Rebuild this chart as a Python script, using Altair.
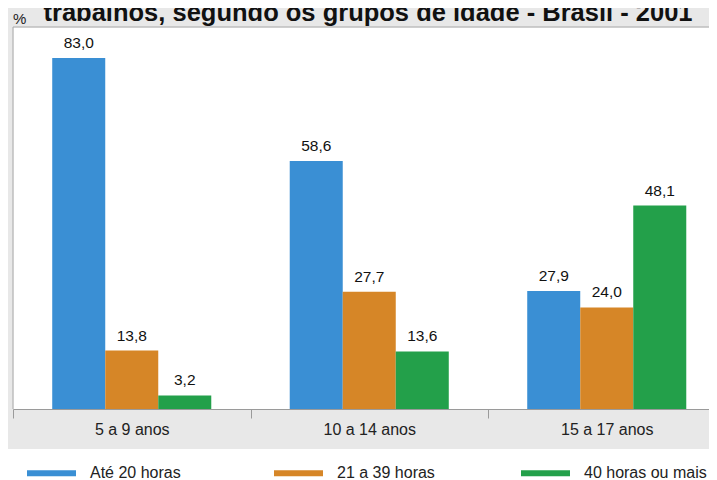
import altair as alt
import pandas as pd

# ---- data ----
groups = ["5 a 9 anos", "10 a 14 anos", "15 a 17 anos"]
series = ["Até 20 horas", "21 a 39 horas", "40 horas ou mais"]
ate_20 = [83.0, 58.6, 27.9]
de_21_39 = [13.8, 27.7, 24.0]
mais_40 = [3.2, 13.6, 48.1]
colors = ["#3a8fd4", "#d68627", "#23a04a"]
title_text = "trabalhos, segundo os grupos de idade - Brasil - 2001"
unit_text = "%"

rows = []
for s, vals in zip(series, [ate_20, de_21_39, mais_40]):
    for g, v in zip(groups, vals):
        rows.append({"grupo": g, "serie": s, "valor": v})
df = pd.DataFrame(rows)

FONT = "Liberation Sans"
W, H = 696, 382

x_enc = alt.X(
    "grupo:N",
    sort=groups,
    scale=alt.Scale(range=[0, 712.5], paddingInner=0, paddingOuter=0),
    axis=alt.Axis(
        title=None,
        labelAngle=0,
        labelFont=FONT,
        labelFontSize=16,
        labelColor="#222222",
        labelPadding=3,
        tickBand="extent",
        tickSize=9,
        tickColor="#9a9a9a",
        domainColor="#9a9a9a",
        ticks=True,
        grid=False,
    ),
)
xoff_enc = alt.XOffset("serie:N", sort=series, scale=alt.Scale(paddingInner=0, paddingOuter=0.74))
y_enc = alt.Y("valor:Q", scale=alt.Scale(domain=[0, 90.3]), axis=None)

base = alt.Chart(df)

bars = base.mark_bar().encode(
    x=x_enc,
    xOffset=xoff_enc,
    y=y_enc,
    color=alt.Color(
        "serie:N",
        sort=series,
        scale=alt.Scale(domain=series, range=colors),
        legend=alt.Legend(
            title=None,
            orient="none",
            legendX=14,
            legendY=421.5,
            direction="horizontal",
            columns=3,
            gridAlign="all",
            columnPadding=61,
            padding=0,
            symbolType="M-1,-0.122H1V0.122H-1Z",
            symbolSize=2401,
            symbolStrokeWidth=0,
            symbolOpacity=1,
            labelFont=FONT,
            labelFontSize=16,
            labelColor="#222222",
            labelOffset=14,
        ),
    ),
)

labels = base.transform_calculate(
    rotulo="replace(format(datum.valor, '.1f'), '.', ',')"
).mark_text(baseline="bottom", dy=-7, font=FONT, fontSize=15.5, color="#111111").encode(
    x=x_enc,
    xOffset=xoff_enc,
    y=y_enc,
    text="rotulo:N",
)

one = alt.Data(values=[{"t": title_text, "u": unit_text}])

white_bottom = alt.Chart(one).mark_rect(color="white").encode(
    x=alt.value(-20), x2=alt.value(730), y=alt.value(422), y2=alt.value(520)
)

border_left = alt.Chart(one).mark_rule(color="#a8a8a8", strokeWidth=1).encode(
    x=alt.value(0), y=alt.value(0), y2=alt.value(H)
)
border_top = alt.Chart(one).mark_rule(color="#a8a8a8", strokeWidth=1).encode(
    x=alt.value(0), x2=alt.value(730), y=alt.value(0)
)

title = alt.Chart(one).mark_text(
    font=FONT, fontSize=25.5, fontWeight="bold", color="#111111", align="center", baseline="alphabetic"
).encode(x=alt.value(355), y=alt.value(-6.5), text="t:N")

unit = alt.Chart(one).mark_text(
    font=FONT, fontSize=15, color="#222222", align="left", baseline="alphabetic"
).encode(x=alt.value(0), y=alt.value(-3), text="u:N")

chart = alt.layer(white_bottom, bars, labels, border_left, border_top, title, unit).properties(
    width=W,
    height=H,
    padding={"left": 5, "top": 19, "right": 0, "bottom": 71},
    autosize=alt.AutoSizeParams(type="none"),
    background="#e8e8e8",
).configure_view(fill="white", stroke="transparent")

chart.save("out.html", embed_options={"renderer": "svg", "actions": False})
